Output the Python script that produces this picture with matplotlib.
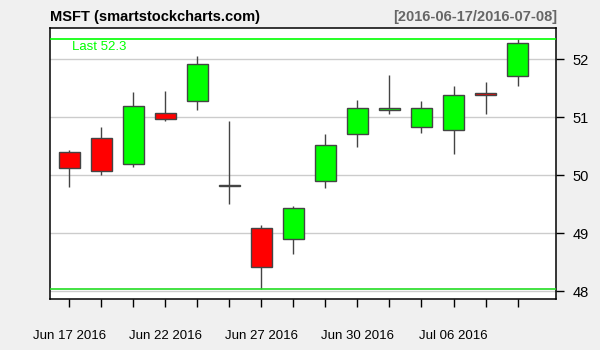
import numpy as np
import matplotlib.pyplot as plt

plt.rcParams['font.family'] = ['Liberation Sans', 'DejaVu Sans']

dates = ["Jun 17", "Jun 20", "Jun 21", "Jun 22", "Jun 23", "Jun 24", "Jun 27",
         "Jun 28", "Jun 29", "Jun 30", "Jul 01", "Jul 05", "Jul 06", "Jul 07", "Jul 08"]
opens = [50.40, 50.64, 50.19, 51.07, 51.28, 49.81, 49.09, 48.91, 49.90, 50.71, 51.13, 50.83, 50.78, 51.42, 51.72]
highs = [50.44, 50.83, 51.44, 51.45, 52.06, 50.94, 49.14, 49.47, 50.71, 51.30, 51.73, 51.28, 51.54, 51.61, 52.35]
lows = [49.80, 50.01, 50.15, 50.94, 51.13, 49.51, 48.04, 48.65, 49.79, 50.49, 51.06, 50.73, 50.37, 51.06, 51.54]
closes = [50.12, 50.07, 51.19, 50.98, 51.92, 49.83, 48.43, 49.43, 50.53, 51.17, 51.16, 51.17, 51.38, 51.38, 52.29]
xlabels = ["Jun 17 2016", "Jun 22 2016", "Jun 27 2016", "Jun 30 2016", "Jul 06 2016"]
xlabel_idx = [0, 3, 6, 9, 12]

o = np.array(opens)
c = np.array(closes)
x = np.arange(len(dates))
colors = np.where(c >= o, '#00ff00', '#ff0000')

fig = plt.figure(figsize=(6, 3.5), dpi=100, facecolor='#f0f0f0')
ax = fig.add_axes([50/600, 51/350, 506/600, 271/350])
ax.set_facecolor('white')

for v in range(48, 53):
    ax.axhline(v, color='#cccccc', lw=1, zorder=0)

ax.vlines(x, lows, highs, color='#444444', lw=1, zorder=1)
ax.bar(x, np.maximum(np.abs(c - o), 0.01), bottom=np.minimum(o, c), width=0.66,
       color=colors, edgecolor='#444444', linewidth=1, zorder=2)

ax.axhline(max(highs), color='#00ff00', lw=1.2, zorder=3)
ax.axhline(min(lows), color='#22dd22', lw=1.2, zorder=3)
ax.text(0.1, max(highs) - 0.03, "Last %.1f" % closes[-1], color='#00ff00',
        fontsize=9.5, va='top', ha='left')

ax.set_xlim(-0.6, 15.2)
ax.set_ylim(47.87, 52.54)

ax.set_xticks(x)
ax.set_xticklabels([xlabels[xlabel_idx.index(i)] if i in xlabel_idx else "" for i in x],
                   fontsize=9.5)
ax.tick_params(axis='x', length=6, width=1, pad=16)
ax.yaxis.tick_right()
ax.set_yticks(range(48, 53))
ax.tick_params(axis='y', length=6, width=1, labelsize=10.5, pad=6)
for s in ax.spines.values():
    s.set_linewidth(1.1)

fig.text(50/600, 1 - 17/350, "MSFT (smartstockcharts.com)", fontsize=10.5,
         fontweight='bold', va='center', ha='left')
fig.text(557/600, 1 - 17/350, "[2016-06-17/2016-07-08]", fontsize=10.5,
         fontweight='bold', color='#666666', va='center', ha='right')

fig.savefig("out.png", dpi=100, facecolor=fig.get_facecolor())
